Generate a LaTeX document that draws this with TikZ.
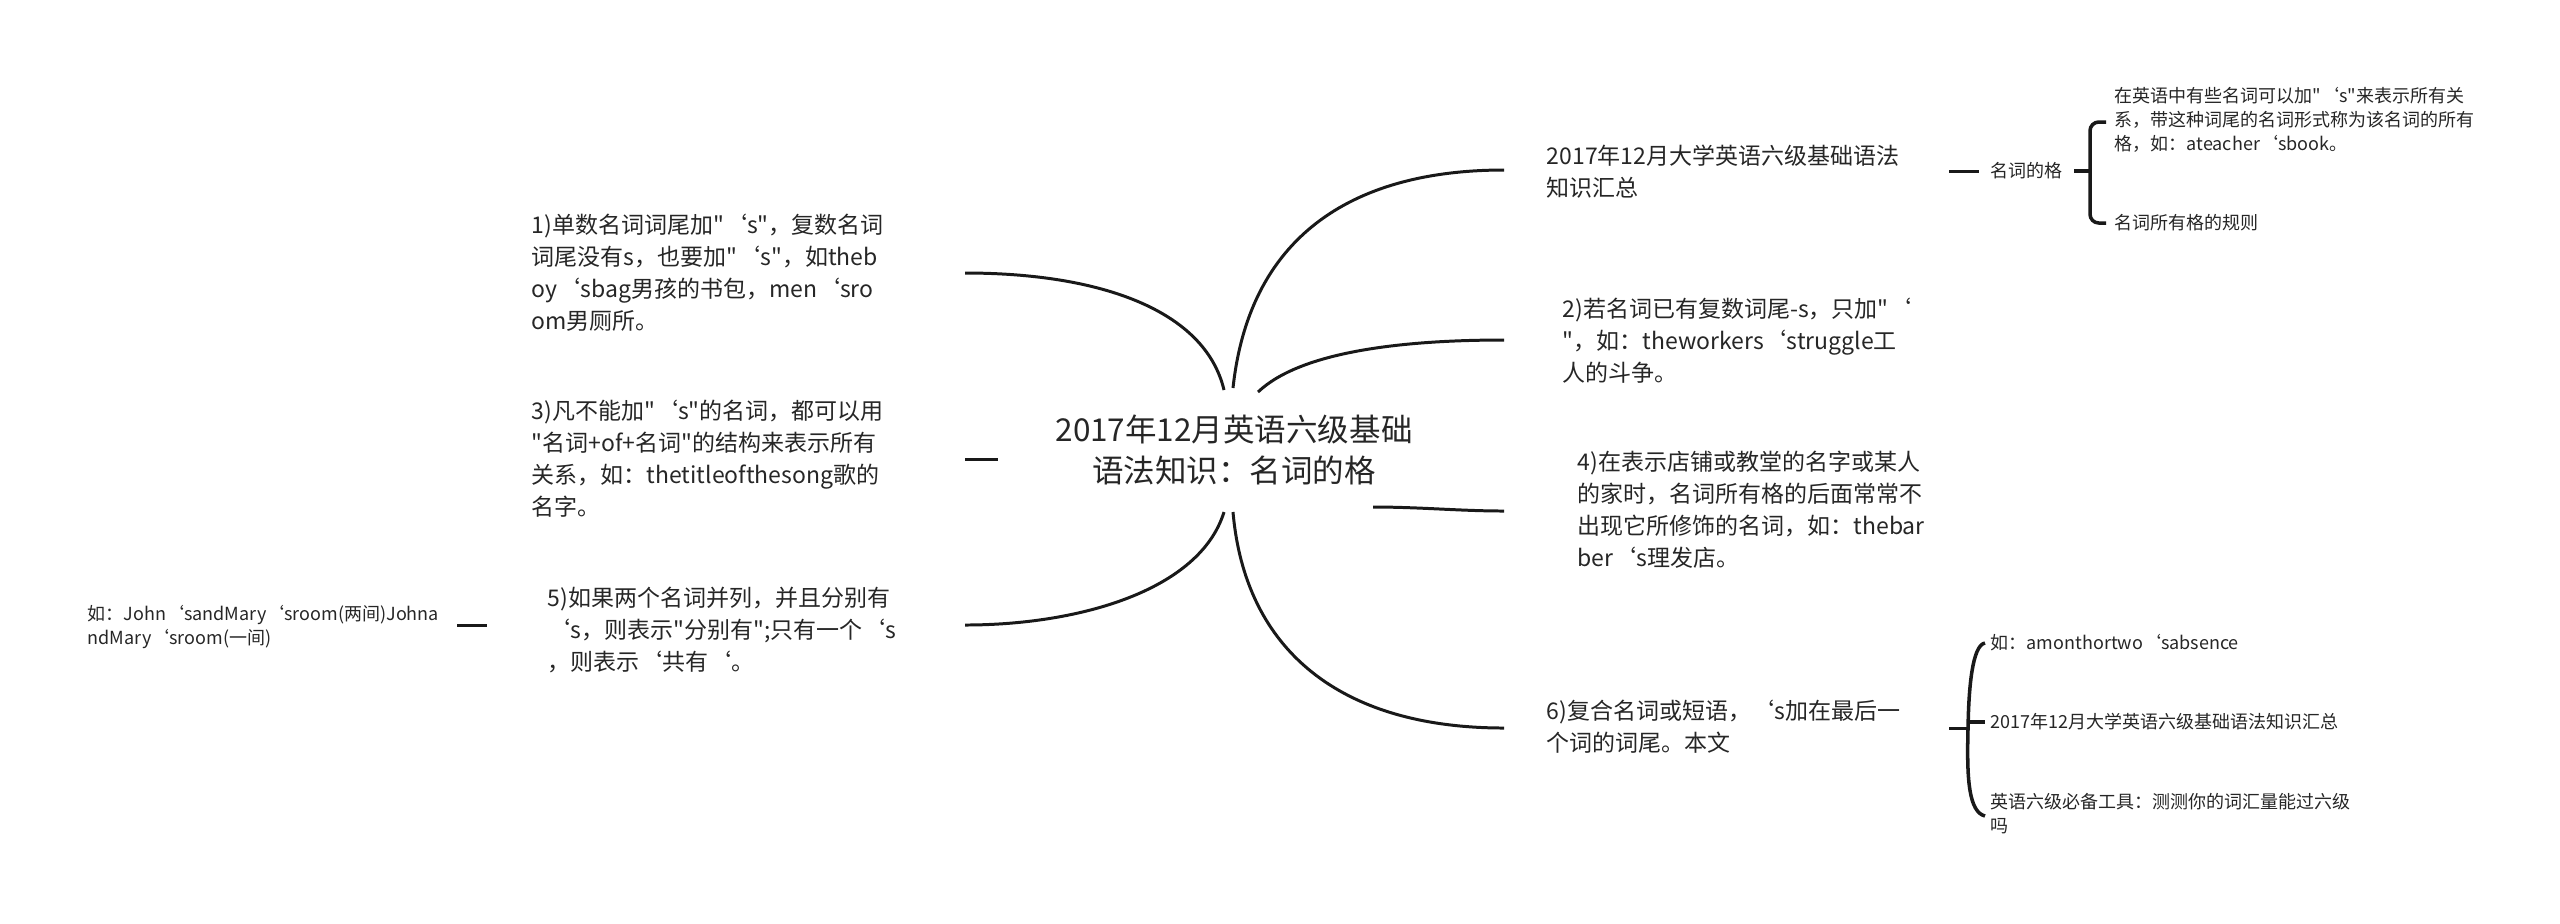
\documentclass[tikz,border=0pt]{standalone}
\usepackage{fontspec}
\setmainfont{Noto Sans CJK SC}[Ligatures=TeXOff]
\usetikzlibrary{positioning,calc}

\begin{document}
\begin{tikzpicture}[x=0.01cm,y=-0.01cm,
  every node/.style={inner sep=0pt,text=black!85},
  topic/.style={align=center,font=\fontsize{8.96}{11.67}\selectfont},
  branch/.style={anchor=west,align=left,font=\fontsize{6.54}{9.1}\selectfont},
  leaf/.style={anchor=west,align=left,font=\fontsize{5.12}{6.83}\selectfont},
  link/.style={line width=0.85pt,black!90},
  brace/.style={line width=1pt,black!90,rounded corners=2.5pt}]
  \useasboundingbox (0,0) rectangle (2560,923);

  % the centre
  \node[topic] (root) at (1234,450) {2017年12月英语六级基础\\语法知识：名词的格};
  \coordinate (rtop) at (1233,388);
  \coordinate (rtopl) at (1224,390);
  \coordinate (rtopr) at (1258,392);
  \coordinate (rbot) at (1233,512);
  \coordinate (rbotl) at (1224,512);

  % right side
  \node[branch] (r1) at (1546,172) {2017年12月大学英语六级基础语法\\知识汇总};
  \node[branch] (r2) at (1562,341) {2)若名词已有复数词尾-s，只加"‘\\"，如：theworkers‘struggle工\\人的斗争。};
  \node[branch] (r4) at (1577,510) {4)在表示店铺或教堂的名字或某人\\的家时，名词所有格的后面常常不\\出现它所修饰的名词，如：thebar\\ber‘s理发店。};
  \node[branch] (r6) at (1546,727) {6)复合名词或短语，‘s加在最后一\\个词的词尾。本文};

  % left side
  \node[branch] (l1) at (531,273) {1)单数名词词尾加"‘s"，复数名词\\词尾没有s，也要加"‘s"，如theb\\oy‘sbag男孩的书包，men‘sro\\om男厕所。};
  \node[branch] (l3) at (531,459) {3)凡不能加"‘s"的名词，都可以用\\"名词+of+名词"的结构来表示所有\\关系，如：thetitleofthesong歌的\\名字。};
  \node[branch] (l5) at (547,630) {5)如果两个名词并列，并且分别有\\‘s，则表示"分别有";只有一个‘s\\，则表示‘共有‘。};
  \node[leaf] (l5a) at (87,627) {如：John‘sandMary‘sroom(两间)Johna\\ndMary‘sroom(一间)};

  % leaves
  \node[leaf] (n1) at (1990,171) {名词的格};
  \node[leaf] (n1a) at (2114,120) {在英语中有些名词可以加"‘s"来表示所有关\\系，带这种词尾的名词形式称为该名词的所有\\格，如：ateacher‘sbook。};
  \node[leaf] (n1b) at (2114,223) {名词所有格的规则};
  \node[leaf] (n6a) at (1990,643) {如：amonthortwo‘sabsence};
  \node[leaf] (n6b) at (1990,722) {2017年12月大学英语六级基础语法知识汇总};
  \node[leaf] (n6c) at (1990,814) {英语六级必备工具：测测你的词汇量能过六级\\吗};

  % curves from the centre
  \draw[link] (rtop) .. controls (1250,230) and (1360,170) .. ($(r1.west)+(-42,-2)$);
  \draw[link] (rtopr) .. controls (1300,352) and (1400,340) .. ($(r2.west)+(-58,-1)$);
  \draw[link] (1373,507) .. controls (1420,507) and (1460,511) .. ($(r4.west)+(-73,1)$);
  \draw[link] (rbot) .. controls (1245,650) and (1340,728) .. ($(r6.west)+(-42,1)$);
  \draw[link] (rtopl) .. controls (1205,310) and (1100,273) .. ($(l1.west)+(434,0)$);
  \draw[link] ($(l3.west)+(434,0)$) -- ++(33,0);
  \draw[link] (rbotl) .. controls (1200,590) and (1080,625) .. ($(l5.west)+(418,-5)$);
  \draw[link] ($(l5a.west)+(370,-2)$) -- ++(30,0);

  % brackets
  \draw[link] ($(n1.west)+(-41,0)$) -- ($(n1.west)+(-11,0)$);
  \draw[brace] ($(n1.east)+(11,0)$) -- (2090,171);
  \draw[brace] ($(n1a.west)+(-8,2)$) -- (2090,122) -- (2090,223) -- ($(n1b.west)+(-8,0)$);
  \draw[link] ($(r6.west)+(403,1)$) -- (1969,728);
  \draw[brace] ($(n6a.west)+(-5,0)$) .. controls (1972,645) and (1969,690) .. (1968,728)
    .. controls (1967,780) and (1969,812) .. ($(n6c.west)+(-5,2)$);
  \draw[brace] (1968,722) -- ($(n6b.west)+(-5,0)$);
\end{tikzpicture}
\end{document}
